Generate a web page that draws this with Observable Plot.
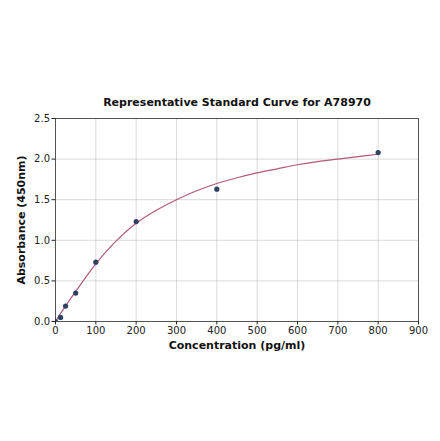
<!DOCTYPE html>
<html>
<head>
<meta charset="utf-8">
<script src="https://cdn.jsdelivr.net/npm/d3@7"></script>
<script src="https://cdn.jsdelivr.net/npm/@observablehq/plot@0.6"></script>
<style>
  body { margin: 0; background: #fff; }
  #plot svg { display: block; }
</style>
</head>
<body>
<div id="plot"></div>
<script>
// Standard points (concentration pg/ml, absorbance 450nm)
const stdConc = [0, 12.5, 25, 50, 100, 200, 400, 800];
const stdOD = [0.0, 0.05, 0.19, 0.35, 0.73, 1.23, 1.63, 2.08];

// Fitted curve
const curveConc = [0, 12.5, 25, 50, 100, 150, 200, 250, 300, 350, 400, 450, 500, 550, 600, 650, 700, 750, 800];
const curveOD = [0.0, 0.10, 0.19, 0.37, 0.71, 0.99, 1.21, 1.37, 1.50, 1.61, 1.70, 1.77, 1.83, 1.88, 1.93, 1.97, 2.00, 2.03, 2.06];

const xTicks = [0, 100, 200, 300, 400, 500, 600, 700, 800, 900];
const yTicks = [0.0, 0.5, 1.0, 1.5, 2.0, 2.5];

const points = stdConc.map((c, i) => ({ conc: c, od: stdOD[i] }));
const curve = curveConc.map((c, i) => ({ conc: c, od: curveOD[i] }));

const plot = Plot.plot({
  width: 440,
  height: 441,
  marginLeft: 55,
  marginRight: 22,
  marginTop: 118,
  marginBottom: 120,
  style: {
    fontFamily: "DejaVu Sans, sans-serif",
    fontSize: "10px",
    color: "#222",
    background: "#fff"
  },
  x: { domain: [0, 900], label: null },
  y: { domain: [0, 2.5], label: null },
  marks: [
    Plot.gridX(xTicks, { stroke: "#b0b0b0", strokeOpacity: 0.6, strokeWidth: 0.8 }),
    Plot.gridY(yTicks, { stroke: "#b0b0b0", strokeOpacity: 0.6, strokeWidth: 0.8 }),
    Plot.line(curve, { x: "conc", y: "od", stroke: "#b3587a", strokeWidth: 1.2, curve: "catmull-rom" }),
    Plot.dot(points, { x: "conc", y: "od", r: 2.6, fill: "#2d4262", stroke: "none", clip: true }),
    Plot.frame({ stroke: "#333", strokeWidth: 0.8 }),
    Plot.axisX({ ticks: xTicks, tickFormat: d => d.toString(), tickSize: 3.5, tickPadding: 2, label: null, fontSize: 10 }),
    Plot.axisY({ ticks: yTicks, tickFormat: d => d.toFixed(1), tickSize: 3.5, tickPadding: 2, label: null, fontSize: 10 }),
    Plot.text(["Representative Standard Curve for A78970"], {
      frameAnchor: "top", dy: -20, fontWeight: "bold", fontSize: 11, fill: "#111"
    }),
    Plot.text(["Concentration (pg/ml)"], {
      frameAnchor: "bottom", dy: 27, fontWeight: "bold", fontSize: 11, fill: "#111"
    }),
    Plot.text(["Absorbance (450nm)"], {
      frameAnchor: "left", dx: -34, rotate: -90, textAnchor: "middle", fontWeight: "bold", fontSize: 11, fill: "#111"
    })
  ]
});

document.getElementById("plot").appendChild(plot);
</script>
</body>
</html>
